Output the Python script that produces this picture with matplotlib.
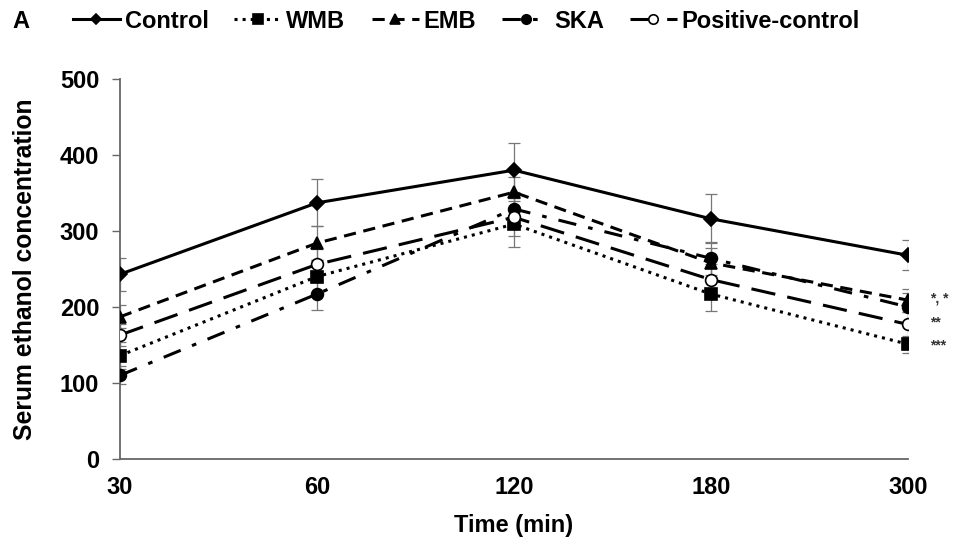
import matplotlib.pyplot as plt
import numpy as np

plt.rcParams['font.family'] = ['Liberation Sans', 'DejaVu Sans']
plt.rcParams['font.weight'] = 'bold'

times = ['30', '60', '120', '180', '300']
control = [243, 337, 380, 316, 268]
control_err = [22, 31, 36, 32, 20]
wmb = [136, 240, 309, 217, 151]
wmb_err = [18, 22, 30, 22, 11]
emb = [187, 284, 351, 258, 209]
emb_err = [15, 22, 20, 20, 15]
ska = [110, 217, 329, 264, 200]
ska_err = [12, 21, 22, 22, 18]
posctrl = [163, 256, 318, 236, 177]
posctrl_err = [14, 20, 25, 20, 16]
signif = ['*, *', '**', '***']
signif_y = [211, 180, 150]

x = np.arange(len(times))

fig = plt.figure(figsize=(9.69, 5.56), dpi=100)
ax = fig.add_axes([0.1238, 0.1745, 0.8132, 0.6835])

series = [
    ('Control', control, control_err, dict(ls='-', marker='D', ms=7, mfc='black')),
    ('WMB', wmb, wmb_err, dict(ls=':', marker='s', ms=8.5, mfc='black')),
    ('EMB', emb, emb_err, dict(ls=(0, (4, 2.5)), marker='^', ms=9, mfc='black')),
    ('SKA', ska, ska_err, dict(ls=(0, (6, 4, 1.5, 4)), marker='o', ms=8.5, mfc='black')),
    ('Positive-control', posctrl, posctrl_err, dict(ls=(0, (8, 4)), marker='o', ms=8.5, mfc='white')),
]

handles = []
for name, vals, err, st in series:
    ax.errorbar(x, vals, yerr=err, fmt='none', ecolor='#777777', elinewidth=0.9,
                capsize=4, capthick=0.9, zorder=1)
    h, = ax.plot(x, vals, color='black', lw=2.2, mec='black', mew=1.2,
                 label=name, zorder=3, **st)
    handles.append(h)

for txt, yv in zip(signif, signif_y):
    ax.annotate(txt, xy=(x[-1], yv), xytext=(16, 0), textcoords='offset points',
                fontsize=10, va='center', ha='left', color='#333333', annotation_clip=False)

ax.set_xlim(0, 4)
ax.set_ylim(0, 500)
ax.set_xticks(x)
ax.set_xticklabels(times)
ax.set_yticks(np.arange(0, 501, 100))
ax.tick_params(axis='x', length=0, pad=12, labelsize=17)
ax.tick_params(axis='y', length=6, width=1, color='#666666', labelsize=17, pad=9)
for s in ['top', 'right']:
    ax.spines[s].set_visible(False)
for s in ['left', 'bottom']:
    ax.spines[s].set_color('#666666')
    ax.spines[s].set_linewidth(1.3)

ax.set_xlabel('Time (min)', fontsize=17, fontweight='bold', labelpad=11)
ax.set_ylabel('Serum ethanol concentration', fontsize=17.8, fontweight='bold', labelpad=16)

fig.text(0.013, 0.962, 'A', fontsize=17, fontweight='bold', va='center')
fig.legend(handles=handles, loc='center left', bbox_to_anchor=(0.075, 0.962), ncol=5,
           frameon=False, fontsize=17, handlelength=2.0, handletextpad=0.2,
           columnspacing=1.1, markerscale=0.8, borderaxespad=0, borderpad=0)

fig.savefig('out.png', dpi=100)
